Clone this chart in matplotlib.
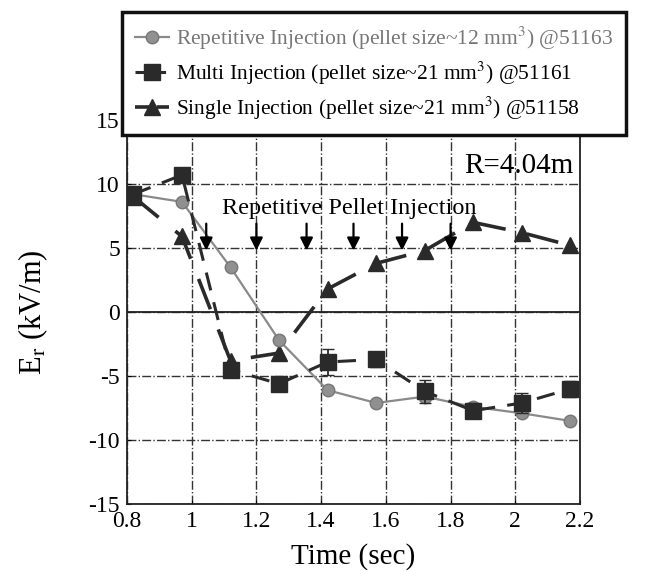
import matplotlib
matplotlib.use("Agg")
import matplotlib.pyplot as plt
from matplotlib.lines import Line2D

plt.rcParams['font.family'] = ['Liberation Serif', 'DejaVu Serif']
plt.rcParams['mathtext.fontset'] = 'stix'
plt.rcParams['axes.unicode_minus'] = False

# Data
t_rep = [0.82, 0.97, 1.12, 1.27, 1.42, 1.57, 1.72, 1.87, 2.02, 2.17]
er_rep = [9.2, 8.6, 3.5, -2.2, -6.1, -7.1, -6.6, -7.4, -7.9, -8.5]

t_multi = [0.82, 0.97, 1.12, 1.27, 1.42, 1.57, 1.72, 1.87, 2.02, 2.17]
er_multi = [9.2, 10.7, -4.5, -5.6, -3.9, -3.7, -6.2, -7.7, -7.1, -6.0]
err_multi = [0.3, 0.3, 0.3, 0.4, 1.0, 0.6, 0.9, 0.6, 0.8, 0.6]

t_single = [0.82, 0.97, 1.12, 1.27, 1.42, 1.57, 1.72, 1.87, 2.02, 2.17]
er_single = [9.0, 5.9, -3.8, -3.2, 1.8, 3.8, 4.8, 7.0, 6.2, 5.2]

arrow_t = [1.045, 1.2, 1.355, 1.5, 1.65, 1.8]

xticks = [0.8, 1, 1.2, 1.4, 1.6, 1.8, 2, 2.2]
xticklabels = ['0.8', '1', '1.2', '1.4', '1.6', '1.8', '2', '2.2']
yticks = [-15, -10, -5, 0, 5, 10, 15]

labels = ['Repetitive Injection (pellet size~12 mm$^3$) @51163',
          'Multi Injection (pellet size~21 mm$^3$) @51161',
          'Single Injection (pellet size~21 mm$^3$) @51158']

fig = plt.figure(figsize=(6.51, 5.71), dpi=100)
ax = fig.add_axes([0.195, 0.117, 0.696, 0.673])

ax.set_xlim(0.8, 2.2)
ax.set_ylim(-15, 15)
ax.set_xticks(xticks)
ax.set_xticklabels(xticklabels)
ax.set_yticks(yticks)
ax.tick_params(labelsize=17, direction='in', length=3, pad=5)
ax.grid(True, linestyle='-.', color='#333333', linewidth=1.0)
ax.axhline(0, color='#222222', linewidth=1.3)
for s in ax.spines.values():
    s.set_linewidth(1.3)
    s.set_color('#222222')

rep_c = '#8a8a8a'
dark = '#2a2a2a'

l1, = ax.plot(t_rep, er_rep, '-', color=rep_c, linewidth=1.6, marker='o',
              markersize=9, markerfacecolor='#909090', markeredgecolor='#777777', zorder=4)
eb = ax.errorbar(t_multi, er_multi, yerr=err_multi, fmt='s', color=dark, ecolor=dark,
                 markersize=11, capsize=4, elinewidth=1.3, zorder=5)
l2, = ax.plot(t_multi, er_multi, color=dark, linewidth=2.2, dashes=(6, 4), zorder=5)
l3, = ax.plot(t_single, er_single, color=dark, linewidth=2.6, dashes=(9, 6),
              marker='^', markersize=12, markerfacecolor=dark, markeredgecolor=dark, zorder=3)

for ta in arrow_t:
    ax.annotate('', xy=(ta, 4.8), xytext=(ta, 6.9),
                arrowprops=dict(arrowstyle='-|>', color='black', lw=1.6,
                                mutation_scale=19, shrinkA=0, shrinkB=0), zorder=6)

ax.text(1.093, 8.1, 'Repetitive Pellet Injection', fontsize=17.5, va='center', ha='left', zorder=7)
ax.text(2.18, 11.4, 'R=4.04m', fontsize=21, va='center', ha='right', zorder=7)

ax.set_xlabel('Time (sec)', fontsize=21, labelpad=8)
ax.set_ylabel('E$_\\mathrm{r}$ (kV/m)', fontsize=22, labelpad=28)

h1 = Line2D([], [], color=rep_c, linewidth=1.6, marker='o', markersize=9,
            markerfacecolor='#909090', markeredgecolor='#777777')
h2 = Line2D([], [], color=dark, linewidth=2.2, dashes=(4, 2), marker='s', markersize=11)
h3 = Line2D([], [], color=dark, linewidth=2.6, dashes=(4, 2), marker='^', markersize=12)

leg = fig.legend([h1, h2, h3], labels, loc='upper left',
                 bbox_to_anchor=(122 / 651, 1 - 12 / 571), fontsize=15.5,
                 frameon=True, fancybox=False, handlelength=1.6, handletextpad=0.3,
                 borderpad=0.6, labelspacing=0.35, borderaxespad=0)
leg.get_frame().set_edgecolor('#111111')
leg.get_frame().set_linewidth(2.5)
leg.get_frame().set_facecolor('white')
leg.get_frame().set_alpha(1)
leg.get_texts()[0].set_color('#777777')
leg.set_zorder(20)

fig.savefig('out.png', dpi=100)
